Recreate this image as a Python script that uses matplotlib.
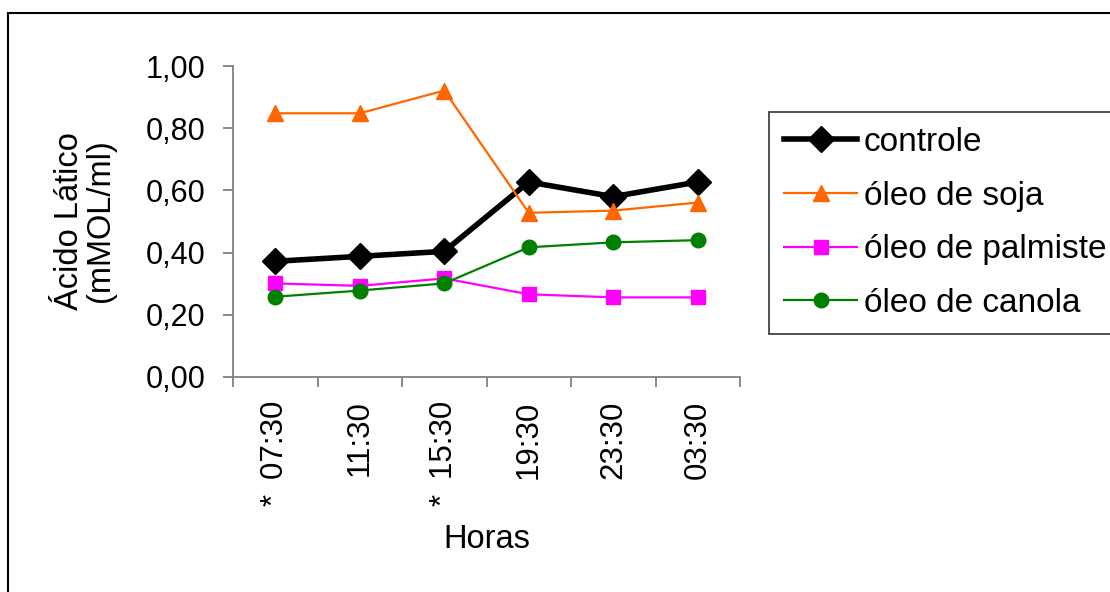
import matplotlib
matplotlib.use("Agg")
import matplotlib.pyplot as plt
from matplotlib.patches import Rectangle

plt.rcParams["font.family"] = ["Liberation Sans", "DejaVu Sans"]

# Sampling times (the asterisk marks feeding times)
horas = ["* \u200907:30", "11:30", "* \u200915:30", "19:30", "23:30", "03:30"]

# Lactic acid concentration (mMOL/ml) per treatment
controle = [0.372, 0.388, 0.404, 0.627, 0.580, 0.627]
soja = [0.848, 0.848, 0.921, 0.528, 0.535, 0.561]
palmiste = [0.301, 0.293, 0.317, 0.266, 0.256, 0.256]
canola = [0.258, 0.278, 0.301, 0.417, 0.433, 0.440]

yticks = [0.0, 0.2, 0.4, 0.6, 0.8, 1.0]

W, H = 1110, 592
fig = plt.figure(figsize=(W / 100, H / 100), dpi=100)
ax = fig.add_axes([233 / W, 1 - 377 / H, (740 - 233) / W, (377 - 66) / H])

x = [i + 0.5 for i in range(len(horas))]
ax.plot(x, controle, color="black", lw=4.0, marker="D", ms=13, label="controle",
        clip_on=False)
ax.plot(x, soja, color="#FF6600", lw=1.6, marker="^", ms=12, label="óleo de soja",
        clip_on=False)
ax.plot(x, palmiste, color="#FF00FF", lw=1.6, marker="s", ms=10.5,
        label="óleo de palmiste", clip_on=False)
ax.plot(x, canola, color="#008000", lw=1.6, marker="o", ms=10.5,
        label="óleo de canola", clip_on=False)

ax.set_xlim(0, len(horas))
ax.set_ylim(0, 1.0)

# Category boundaries carry the tick marks, category centres carry the labels
ax.set_xticks(range(len(horas) + 1))
ax.set_xticklabels([])
ax.set_xticks(x, minor=True)
ax.set_xticklabels(horas, minor=True, rotation=90, fontsize=22.5)
ax.tick_params(axis="x", which="major", direction="out", length=7, width=1.3,
               color="#808080")
ax.tick_params(axis="x", which="minor", length=0, pad=17)

ax.set_yticks(yticks)
ax.set_yticklabels([f"{v:.2f}".replace(".", ",") for v in yticks], fontsize=22)
ax.tick_params(axis="y", direction="out", length=7, width=1.3, color="#808080",
               pad=13)

for side in ("top", "right"):
    ax.spines[side].set_visible(False)
for side in ("left", "bottom"):
    ax.spines[side].set_color("#808080")
    ax.spines[side].set_linewidth(1.3)

fig.text(85 / W, 1 - 221 / H, "Ácido Lático\n(mMOL/ml)", rotation=90,
         ha="center", va="center", multialignment="center", fontsize=23.5,
         linespacing=1.0)
fig.text(487 / W, 1 - 540 / H, "Horas", ha="center", va="center", fontsize=23.5)

leg = fig.legend(loc="upper left", bbox_to_anchor=(769 / W, 1 - 112 / H),
                 borderaxespad=0, fontsize=24, handlelength=2.2,
                 handletextpad=0.2, labelspacing=0.68, borderpad=0.45,
                 fancybox=False, framealpha=1)
leg.get_frame().set_edgecolor("#333333")
leg.get_frame().set_linewidth(1.2)

# Outer chart frame
fig.add_artist(Rectangle((8 / W, -0.05), 1.1, 1 - 13 / H + 0.05,
                         transform=fig.transFigure, fill=False,
                         edgecolor="black", lw=1.5, clip_on=False))

fig.savefig("out.png", dpi=100)
